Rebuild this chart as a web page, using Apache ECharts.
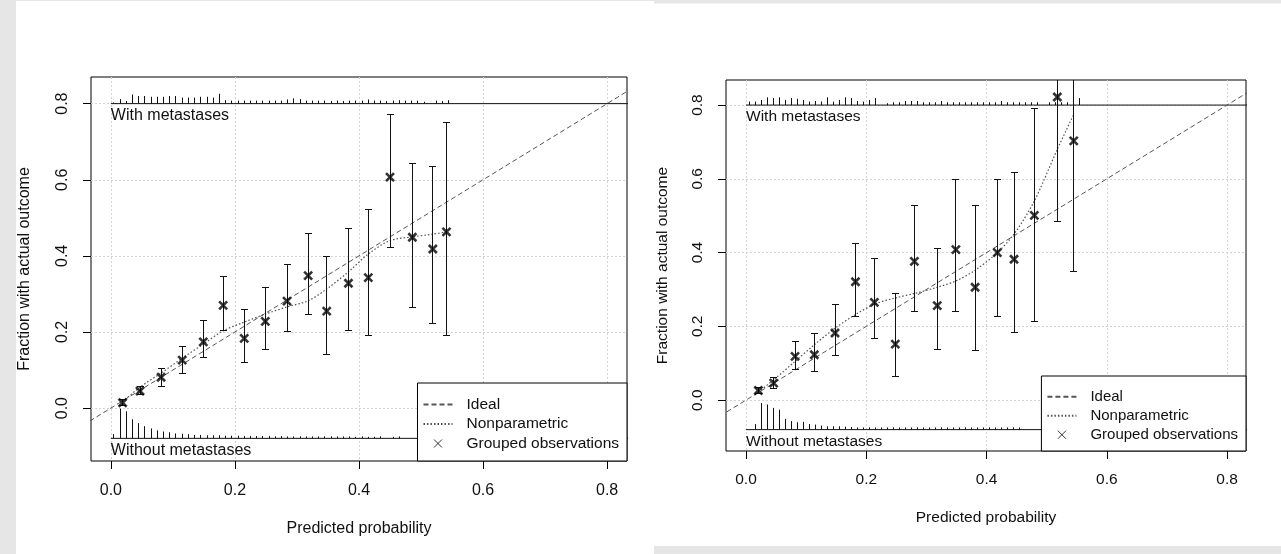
<!DOCTYPE html>
<html>
<head>
<meta charset="utf-8">
<script src="https://cdn.jsdelivr.net/npm/echarts@6/dist/echarts.min.js"></script>
<style>
  html, body { margin: 0; padding: 0; background: #fff; }
  #chart { width: 1281px; height: 554px; }
</style>
</head>
<body>
<div id="chart"></div>
<script>
// tick values shared by both panels
var tickValues = [0, 0.2, 0.4, 0.6, 0.8];

// spike histogram bin centres (predicted probability)
var binX = [0.005, 0.015, 0.025, 0.035, 0.045, 0.055, 0.065, 0.075, 0.085, 0.095,
  0.105, 0.115, 0.125, 0.135, 0.145, 0.155, 0.165, 0.175, 0.185, 0.195,
  0.205, 0.215, 0.225, 0.235, 0.245, 0.255, 0.265, 0.275, 0.285, 0.295,
  0.305, 0.315, 0.325, 0.335, 0.345, 0.355, 0.365, 0.375, 0.385, 0.395,
  0.405, 0.415, 0.425, 0.435, 0.445, 0.455, 0.465, 0.475, 0.485, 0.495,
  0.505, 0.515, 0.525, 0.535, 0.545, 0.555];

/* ---- left panel ---- */
var leftPredX = [0.019, 0.047, 0.081, 0.115, 0.149, 0.181, 0.215, 0.249, 0.284, 0.318, 0.348, 0.383, 0.415, 0.450, 0.486, 0.519, 0.541];
var leftObsY  = [0.014, 0.045, 0.081, 0.126, 0.174, 0.270, 0.183, 0.228, 0.281, 0.348, 0.255, 0.328, 0.343, 0.607, 0.449, 0.418, 0.463];
var leftLower = [0.008, 0.037, 0.058, 0.092, 0.132, 0.205, 0.121, 0.155, 0.200, 0.247, 0.142, 0.203, 0.190, 0.422, 0.264, 0.222, 0.192];
var leftUpper = [0.022, 0.056, 0.104, 0.163, 0.230, 0.345, 0.260, 0.316, 0.377, 0.460, 0.398, 0.472, 0.522, 0.771, 0.643, 0.634, 0.750];
var leftSmoothY = [0.017, 0.055, 0.092, 0.131, 0.168, 0.203, 0.226, 0.247, 0.266, 0.282, 0.313, 0.358, 0.405, 0.440, 0.450, 0.457, 0.463];
var leftTopH = [0.003, 0.012, 0.007, 0.024, 0.020, 0.020, 0.018, 0.018, 0.018, 0.020,
  0.020, 0.016, 0.016, 0.016, 0.018, 0.018, 0.016, 0.026, 0.009, 0.008,
  0.008, 0.008, 0.008, 0.008, 0.008, 0.008, 0.008, 0.008, 0.011, 0.014,
  0.012, 0.008, 0.008, 0.008, 0.008, 0.007, 0.008, 0.007, 0.008, 0.008,
  0.008, 0.011, 0.008, 0.008, 0.007, 0.008, 0.009, 0.008, 0.008, 0.008,
  0.005, 0, 0.008, 0.007, 0.009, 0];
var leftBotH = [0.011, 0.078, 0.071, 0.050, 0.040, 0.032, 0.026, 0.021, 0.018, 0.016,
  0.013, 0.012, 0.011, 0.009, 0.009, 0.008, 0.008, 0.008, 0.007, 0.007,
  0.007, 0.006, 0.006, 0.006, 0.006, 0.006, 0.005, 0.006, 0.005, 0.005,
  0.005, 0.005, 0.005, 0.005, 0.005, 0.005, 0.005, 0.005, 0.005, 0.004,
  0.005, 0.004, 0.004, 0.005, 0, 0.004, 0.005];

/* ---- right panel ---- */
var rightPredX = [0.0205, 0.046, 0.0815, 0.1136, 0.148, 0.182, 0.2134, 0.2483, 0.280, 0.318, 0.349, 0.381, 0.418, 0.4457, 0.4795, 0.5177, 0.545];
var rightObsY  = [0.026, 0.046, 0.1185, 0.123, 0.182, 0.321, 0.265, 0.152, 0.376, 0.256, 0.408, 0.306, 0.400, 0.382, 0.501, 0.822, 0.703];
var rightLower = [0.019, 0.032, 0.084, 0.077, 0.120, 0.228, 0.167, 0.065, 0.240, 0.136, 0.239, 0.134, 0.227, 0.183, 0.212, 0.483, 0.349];
var rightUpper = [0.035, 0.061, 0.159, 0.180, 0.259, 0.424, 0.383, 0.290, 0.527, 0.410, 0.597, 0.529, 0.597, 0.616, 0.790, 1.000, 1.000];
var rightSmoothY = [0.022, 0.055, 0.105, 0.150, 0.195, 0.232, 0.260, 0.277, 0.289, 0.306, 0.323, 0.352, 0.400, 0.450, 0.540, 0.680, 0.775];
var rightTopH = [0.0095, 0.0095, 0.014, 0.021, 0.019, 0.021, 0.014, 0.019, 0.017, 0.014,
  0.0095, 0.011, 0.0095, 0.021, 0.0095, 0.014, 0.021, 0.019, 0.011, 0.0095,
  0.014, 0.019, 0, 0.005, 0.0076, 0.0076, 0.011, 0.011, 0.011, 0.0076,
  0.0076, 0.0076, 0.011, 0.0076, 0.0076, 0.0076, 0.0076, 0.0076, 0.0076, 0.0076,
  0.0076, 0.0076, 0.011, 0.0076, 0.0076, 0.0076, 0.0076, 0.0076, 0.0076, 0,
  0.0076, 0.0076, 0.0076, 0.0076, 0, 0.019];
var rightBotH = [0, 0.015, 0.072, 0.068, 0.059, 0.054, 0.029, 0.023, 0.020, 0.021,
  0.015, 0.0135, 0.011, 0.009, 0.009, 0.009, 0.008, 0.007, 0.006, 0.006,
  0.006, 0.006, 0.006, 0.006, 0.006, 0.006, 0.006, 0.006, 0.006, 0.006,
  0.006, 0.006, 0.006, 0.006, 0.006, 0.006, 0.006, 0.006, 0.006, 0.006,
  0.006, 0.006, 0.006, 0.006, 0.006, 0.006];

var groupLabels = ['With metastases', 'Without metastases'];
var legendNames = ['Ideal', 'Nonparametric', 'Grouped observations'];

var FONT = 'Liberation Sans, Arial, sans-serif';
var crossPath = 'path://M0,0L10,10M10,0L0,10';

function zip(xs, ys) {
  return xs.map(function (x, i) { return [x, ys[i]]; });
}

function crisp(v) { return Math.round(v - 0.5) + 0.5; }

function errorBarItem(params, api) {
  var x = api.value(0);
  var lo = api.coord([x, api.value(1)]);
  var hi = api.coord([x, api.value(2)]);
  var cx = crisp(lo[0]);
  var w = 3.5;
  var s = { stroke: '#111', lineWidth: 1 };
  return {
    type: 'group',
    children: [
      { type: 'line', shape: { x1: cx, y1: lo[1], x2: cx, y2: hi[1] }, style: s },
      { type: 'line', shape: { x1: cx - w, y1: crisp(lo[1]), x2: cx + w, y2: crisp(lo[1]) }, style: s },
      { type: 'line', shape: { x1: cx - w, y1: crisp(hi[1]), x2: cx + w, y2: crisp(hi[1]) }, style: s }
    ]
  };
}

function spikeItem(base) {
  return function (params, api) {
    var x = api.value(0);
    var h = api.value(1);
    var p0 = api.coord([x, base]);
    var p1 = api.coord([x, base + h]);
    var cx = crisp(p0[0]);
    return {
      type: 'line',
      shape: { x1: cx, y1: p0[1], x2: cx, y2: p1[1] },
      style: { stroke: '#111', lineWidth: 1 }
    };
  };
}

function labelItem(fontSize) {
  return function (params, api) {
    var p = api.coord([api.value(0), api.value(1)]);
    return {
      type: 'text',
      x: p[0],
      y: p[1] + 12,
      style: {
        text: groupLabels[params.dataIndex],
        fontSize: fontSize,
        fontFamily: FONT,
        fill: '#111',
        verticalAlign: 'middle',
        align: 'left'
      }
    };
  };
}

var panels = [
  {
    grid: { left: 91, top: 77, width: 536, height: 384 },
    x: [-0.032, 0.832], y: [-0.139, 0.870],
    font: 16, xLabelMargin: 22, yLabelMargin: 20, xNameGap: 60, yNameGap: 58,
    predX: leftPredX, obsY: leftObsY, lower: leftLower, upper: leftUpper, smoothY: leftSmoothY,
    topH: leftTopH, botH: leftBotH, topBase: 0.8, botBase: -0.0795,
    legend: { right: 654, bottom: 93, font: 15.5, lineHeight: 18, gap: 1.5, padding: [12.5, 8, 8.5, 5] }
  },
  {
    grid: { left: 726, top: 80, width: 520, height: 371 },
    x: [-0.0333, 0.8315], y: [-0.138, 0.868],
    font: 15.5, xLabelMargin: 21, yLabelMargin: 20, xNameGap: 59, yNameGap: 55,
    predX: rightPredX, obsY: rightObsY, lower: rightLower, upper: rightUpper, smoothY: rightSmoothY,
    topH: rightTopH, botH: rightBotH, topBase: 0.8, botBase: -0.080,
    legend: { right: 35, bottom: 103, font: 15, lineHeight: 17.5, gap: 1.5, padding: [12, 8, 7.5, 5] }
  }
];

var grids = [], xAxes = [], yAxes = [], series = [], legends = [];

panels.forEach(function (p, k) {
  grids.push(Object.assign({
    show: true, borderColor: '#000', borderWidth: 1, backgroundColor: 'transparent'
  }, p.grid));

  var gridLine = { show: true, lineStyle: { color: '#d3d3d3', type: [2, 2], width: 1 } };
  var tick = { show: true, length: 8, customValues: tickValues, lineStyle: { color: '#000' } };

  xAxes.push({
    type: 'value', gridIndex: k, min: p.x[0], max: p.x[1],
    name: 'Predicted probability', nameLocation: 'middle', nameGap: p.xNameGap,
    nameTextStyle: { fontSize: p.font, fontFamily: FONT, color: '#111' },
    axisLine: { show: false, onZero: false },
    axisTick: tick,
    axisLabel: {
      customValues: tickValues, margin: p.xLabelMargin, fontSize: p.font, fontFamily: FONT, color: '#111',
      formatter: function (v) { return v.toFixed(1); }
    },
    splitLine: gridLine
  });
  yAxes.push({
    type: 'value', gridIndex: k, min: p.y[0], max: p.y[1],
    name: 'Fraction with actual outcome', nameLocation: 'middle', nameGap: p.yNameGap,
    nameTextStyle: { fontSize: p.font, fontFamily: FONT, color: '#111' },
    axisLine: { show: false, onZero: false },
    axisTick: tick,
    axisLabel: {
      customValues: tickValues, rotate: 90, margin: p.yLabelMargin, fontSize: p.font, fontFamily: FONT, color: '#111',
      formatter: function (v) { return v.toFixed(1); }
    },
    splitLine: gridLine
  });

  var axisRef = { xAxisIndex: k, yAxisIndex: k };

  series.push(Object.assign({
    name: 'Ideal', type: 'line', symbol: 'none', silent: true,
    data: [[-0.1, -0.1], [0.9, 0.9]],
    lineStyle: { color: '#555', width: 1, type: [5, 3] },
    itemStyle: { color: '#555' }, z: 3
  }, axisRef));

  series.push(Object.assign({
    name: 'Nonparametric', type: 'line', symbol: 'none', silent: true, smooth: 0.3,
    data: zip(p.predX, p.smoothY),
    lineStyle: { color: '#555', width: 1.2, type: [1.5, 2] },
    itemStyle: { color: '#555' }, z: 3
  }, axisRef));

  // frame lines for the spike histograms
  series.push(Object.assign({
    type: 'line', symbol: 'none', silent: true,
    data: [[0, p.topBase], [0.9, p.topBase]],
    lineStyle: { color: '#111', width: 1 }, z: 2
  }, axisRef));
  series.push(Object.assign({
    type: 'line', symbol: 'none', silent: true,
    data: [[0, p.botBase], [0.9, p.botBase]],
    lineStyle: { color: '#111', width: 1 }, z: 2
  }, axisRef));

  series.push(Object.assign({
    type: 'custom', silent: true, clip: true,
    renderItem: spikeItem(p.topBase),
    data: zip(binX.slice(0, p.topH.length), p.topH), z: 2
  }, axisRef));
  series.push(Object.assign({
    type: 'custom', silent: true, clip: true,
    renderItem: spikeItem(p.botBase),
    data: zip(binX.slice(0, p.botH.length), p.botH), z: 2
  }, axisRef));

  series.push(Object.assign({
    type: 'custom', silent: true,
    renderItem: labelItem(p.font),
    data: [[0, p.topBase], [0, p.botBase]], z: 2
  }, axisRef));

  series.push(Object.assign({
    type: 'custom', silent: true, clip: true,
    renderItem: errorBarItem,
    data: p.predX.map(function (x, i) { return [x, p.lower[i], p.upper[i]]; }), z: 4
  }, axisRef));

  series.push(Object.assign({
    name: 'Grouped observations', type: 'scatter', silent: true,
    symbol: crossPath, symbolSize: 8,
    itemStyle: { color: 'transparent', borderColor: '#000', borderWidth: 2.6 },
    data: zip(p.predX, p.obsY), z: 5
  }, axisRef));

  var lg = p.legend;
  legends.push({
    orient: 'vertical', right: lg.right, bottom: lg.bottom,
    selectedMode: false,
    backgroundColor: '#fff', borderColor: '#000', borderWidth: 1, borderRadius: 0,
    padding: lg.padding, itemGap: lg.gap, itemWidth: 29, itemHeight: 8,
    textStyle: { fontSize: lg.font, fontFamily: FONT, color: '#111', lineHeight: lg.lineHeight, padding: [0, 0, 0, 9] },
    data: [
      { name: legendNames[0], itemStyle: { opacity: 0 } },
      { name: legendNames[1], itemStyle: { opacity: 0 } },
      { name: legendNames[2], icon: crossPath, itemStyle: { color: 'transparent', borderColor: '#000', borderWidth: 1 } }
    ],
    z: 10
  });
});

var chart = echarts.init(document.getElementById('chart'), null, { renderer: 'canvas' });
chart.setOption({
  animation: false,
  backgroundColor: '#fff',
  graphic: [
    { type: 'rect', shape: { x: 0, y: 0, width: 16, height: 554 }, style: { fill: '#e6e6e6' }, silent: true, z: -10 },
    { type: 'rect', shape: { x: 16, y: 0, width: 638, height: 1 }, style: { fill: '#e6e6e6' }, silent: true, z: -10 },
    { type: 'rect', shape: { x: 654, y: 0, width: 627, height: 3.5 }, style: { fill: '#e6e6e6' }, silent: true, z: -10 },
    { type: 'rect', shape: { x: 654, y: 546, width: 627, height: 8 }, style: { fill: '#e6e6e6' }, silent: true, z: -10 }
  ],
  grid: grids,
  xAxis: xAxes,
  yAxis: yAxes,
  legend: legends,
  series: series
});
</script>
</body>
</html>
